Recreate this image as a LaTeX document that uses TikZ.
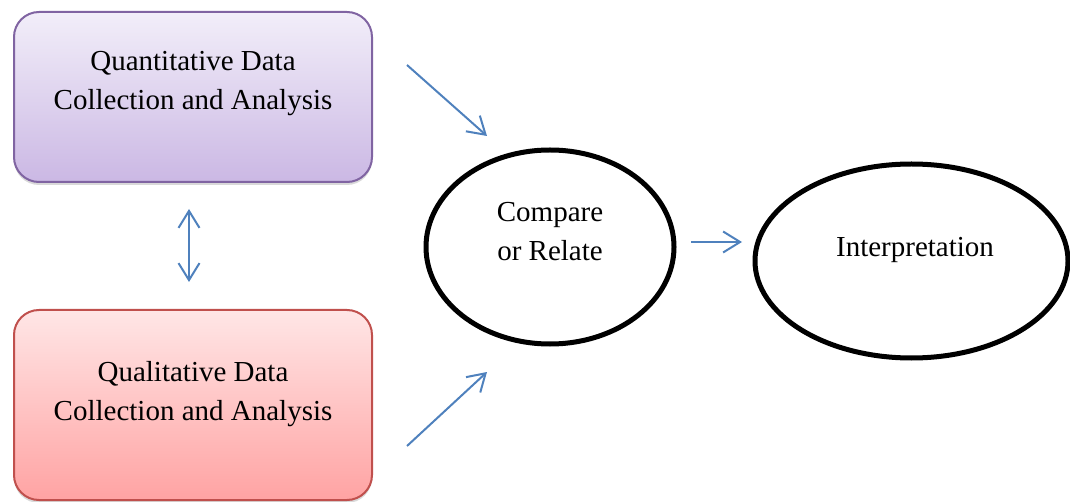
\documentclass[tikz,border=0pt]{standalone}
\usepackage{fontspec}
\setmainfont{Liberation Serif}
\newfontfamily\timesfont{Liberation Serif}
\usetikzlibrary{shapes.geometric,arrows.meta,shadows}
\definecolor{arrblue}{RGB}{79,129,189}
\definecolor{purpborder}{RGB}{128,100,162}
\definecolor{purptop}{RGB}{242,238,249}
\definecolor{purpbot}{RGB}{203,184,228}
\definecolor{redborder}{RGB}{192,80,77}
\definecolor{redtop}{RGB}{255,230,230}
\definecolor{redbot}{RGB}{255,163,163}
\begin{document}
\begin{tikzpicture}[x=1pt,y=-1pt,
  every node/.style={font=\timesfont\fontsize{29}{39}\selectfont, inner sep=0pt, align=center},
  databox/.style={rounded corners=25pt, line width=2pt,
    drop shadow={shadow xshift=0pt, shadow yshift=-3pt, opacity=0.25, fill=black!60}},
  quantbox/.style={databox, draw=purpborder, top color=purptop, bottom color=purpbot},
  qualbox/.style={databox, draw=redborder, top color=redtop, bottom color=redbot},
  oval/.style={ellipse, draw=black, line width=5pt, fill=white},
  arr/.style={draw=arrblue, line width=2pt, -{Straight Barb[length=17pt,width=21pt,line width=2pt]}},
  darr/.style={draw=arrblue, line width=2pt, {Straight Barb[length=17pt,width=21pt,line width=2pt]}-{Straight Barb[length=17pt,width=21pt,line width=2pt]}},
  txt/.style={text=black}]
\useasboundingbox (0,0) rectangle (1070,502);

% boxes
\path[quantbox] (14,12) rectangle (372,182);
\node[txt] (quant) at (193,83.7) {Quantitative Data\\Collection and Analysis};
\path[qualbox] (14,310) rectangle (372,500);
\node[txt] (qual) at (193,393.7) {Qualitative Data\\Collection and Analysis};

% ellipses
\node[oval, minimum width=248pt, minimum height=194pt] (cmp) at (550,247) {};
\node[txt] (cmptxt) at (550,231.2) {Compare\\or Relate};
\node[oval, minimum width=313pt, minimum height=194pt] (interp) at (911.5,261) {};
\node[txt, anchor=base] (interptxt) at (915,257) {Interpretation};

% arrow end points
\coordinate (a1s) at (407,65);
\coordinate (a1e) at (487,136);
\coordinate (a2s) at (407,446);
\coordinate (a2e) at (487,372);
\coordinate (a3s) at (691,242);
\coordinate (a3e) at (742,242);
\coordinate (a4s) at (189,209);
\coordinate (a4e) at (189,282);

\draw[arr] (a1s) -- (a1e);
\draw[arr] (a2s) -- (a2e);
\draw[arr] (a3s) -- (a3e);
\draw[darr] (a4s) -- (a4e);
\end{tikzpicture}
\end{document}
